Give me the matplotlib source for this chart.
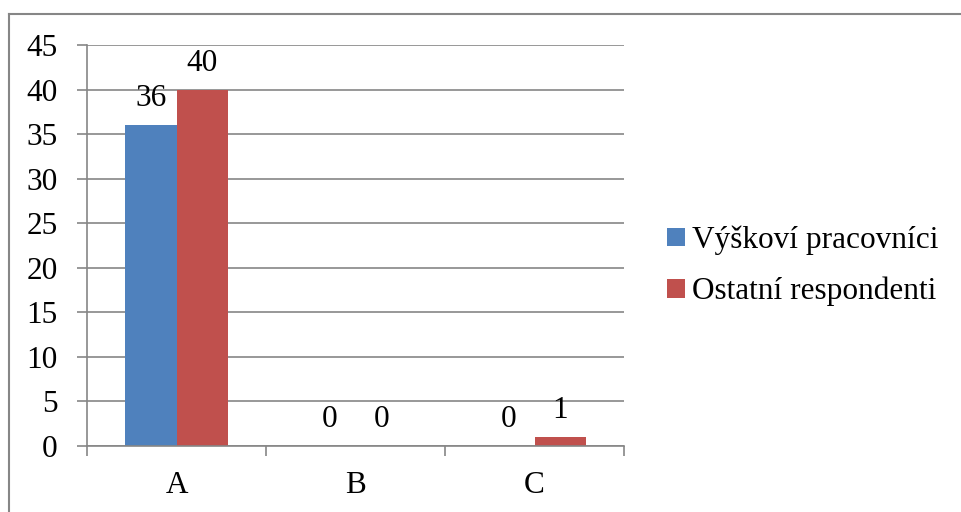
import matplotlib.pyplot as plt
import numpy as np
from matplotlib.lines import Line2D

categories = ['A', 'B', 'C']
vyskovi = [36, 0, 0]
ostatni = [40, 0, 1]
series_names = ['Výškoví pracovníci', 'Ostatní respondenti']
colors = ['#4F81BD', '#C0504D']

plt.rcParams['font.family'] = ['Liberation Serif', 'DejaVu Serif']
FS = 22.5

W, H = 962, 512
fig = plt.figure(figsize=(W / 100, H / 100), dpi=100)

# outer chart border (only left and top edges visible in the reference)
grey = '#868686'
fig.add_artist(Line2D([9 / W, 9 / W], [0, 1 - 14 / H], color=grey, lw=1.5))
fig.add_artist(Line2D([9 / W, 1], [1 - 14 / H, 1 - 14 / H], color=grey, lw=1.5))

ax = fig.add_axes([87 / W, 1 - 446 / H, (624 - 87) / W, (446 - 45) / H])

x = np.arange(len(categories))
bw = 1 / 3.5
b1 = ax.bar(x - bw / 2, vyskovi, bw, color=colors[0], label=series_names[0])
b2 = ax.bar(x + bw / 2, ostatni, bw, color=colors[1], label=series_names[1])

for bars in (b1, b2):
    ax.bar_label(bars, padding=8.5, fontsize=FS)

ax.set_xlim(-0.5, len(categories) - 0.5)
ax.set_ylim(0, 45)
ax.set_yticks(range(0, 46, 5))
ax.set_yticklabels([str(v) for v in range(0, 46, 5)], fontsize=FS)
ax.set_xticks(x)
ax.set_xticklabels(categories, fontsize=FS)
ax.set_xticks(np.arange(-0.5, len(categories), 1), minor=True)

ax.yaxis.grid(True, color=grey, lw=1.2)
ax.set_axisbelow(True)
for side in ('top', 'right'):
    ax.spines[side].set_visible(False)
ax.spines['left'].set_color(grey)
ax.spines['bottom'].set_color(grey)
ax.spines['left'].set_linewidth(1.2)
ax.spines['bottom'].set_linewidth(1.2)

ax.tick_params(axis='y', length=7, color=grey, width=1.2, pad=14)
ax.tick_params(axis='x', which='major', length=0, pad=18)
ax.tick_params(axis='x', which='minor', length=7, color=grey, width=1.2)

ax.legend(loc='center left', bbox_to_anchor=(655 / W, 1 - 266 / H),
          bbox_transform=fig.transFigure, frameon=False, fontsize=FS,
          handlelength=0.55, handleheight=0.55, handletextpad=0.25,
          labelspacing=0.7, borderaxespad=0)

fig.savefig('out.png', dpi=100)
